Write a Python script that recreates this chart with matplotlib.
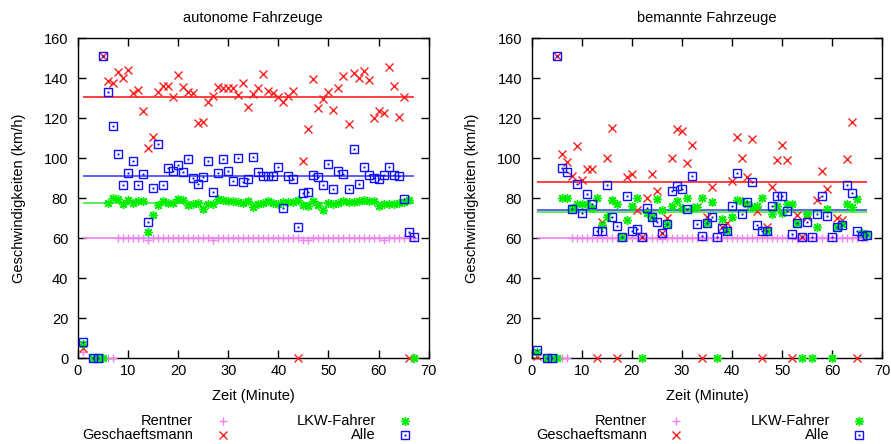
import matplotlib
matplotlib.use("Agg")
import matplotlib.pyplot as plt

plt.rcParams['font.family'] = ['Liberation Sans', 'DejaVu Sans']
plt.rcParams['font.size'] = 10.5

panel_titles = ["autonome Fahrzeuge", "bemannte Fahrzeuge"]
series_names = ["Rentner", "Geschaeftsmann", "LKW-Fahrer", "Alle"]

# ---- autonome Fahrzeuge ----
auto_rentner_x = [1, 6, 7] + list(range(8, 68))
auto_rentner_y = [3, 0, 0,
                  60, 60, 60, 60, 60, 60, 59.3, 60, 60, 60,
                  60, 60, 60, 60, 60, 60, 60, 60, 60, 59.4,
                  60, 60, 60, 60, 60, 60, 60, 60, 60, 60,
                  60, 60, 60, 60, 60, 60, 60, 59.3, 59.4, 60,
                  60, 60, 60, 60, 60, 60, 60, 60, 60, 60,
                  60, 60, 60, 59.3, 60, 60, 60, 60, 60, 60]

auto_gesch_x = [1, 3, 4] + list(range(5, 67))
auto_gesch_y = [5, 0, 0,
                151, 138.8, 137.5, 143, 140.3, 144, 132.5, 134.2, 123.7, 105.3,
                110.7, 133.3, 136.3, 136.3, 130.8, 141.7, 135.5, 133, 132.5, 117.8,
                118.3, 128.3, 131.2, 135.8, 135.3, 135, 135.3, 131.7, 137.5, 125.5,
                132, 135.3, 142, 133.7, 132.5, 130.5, 128, 131.2, 133.7, 0,
                98.7, 114.5, 139.7, 125.3, 129.7, 133.3, 124.2, 135, 141.3, 117.2,
                142.5, 140.3, 143.7, 139.2, 120.3, 123.7, 122.5, 145.5, 136.2, 120.8,
                130.8, 0]

auto_lkw_x = [1, 3, 4, 5] + list(range(6, 68))
auto_lkw_y = [7, 0, 0, 0,
              77.8, 80.3, 79.5, 77, 79.2, 77.5, 78.8, 78.7, 63.3, 71.5,
              76.7, 78.7, 77.5, 77.8, 79.5, 79.2, 76.7, 77.2, 77.5, 74.5,
              77.2, 77, 79.8, 79.2, 78.7, 78.8, 78, 77.5, 78.8, 75.8,
              77.2, 77.8, 78.8, 77.8, 77, 78.3, 78, 78.3, 79.2, 76.7,
              76.3, 78.8, 76.7, 74.2, 77.5, 77.2, 77.5, 78.5, 78, 78,
              78.5, 79.2, 78.8, 78.5, 76.3, 77, 77.2, 77.2, 77.5, 78,
              79.2, 0]

auto_alle_x = [1, 3, 4] + list(range(5, 68))
auto_alle_y = [8, 0, 0,
               151, 133.3, 116.3, 102, 86.7, 92.5, 98.8, 86.7, 92.2, 68.3,
               85.2, 107, 86.7, 95, 93.7, 96.5, 93.2, 99.5, 90.3, 87.3,
               90.8, 98.8, 83.2, 92.5, 99.7, 93.7, 88.7, 100.3, 88.3, 89.7,
               100.7, 93.3, 91.3, 91.3, 91, 95.7, 75.3, 91, 89.8, 65.8,
               82.5, 83, 91.8, 90.8, 86.7, 97, 84.7, 93.8, 92.2, 84.5,
               104.5, 87, 95.5, 91.8, 90.3, 89.8, 91.8, 95.7, 91.7, 91.2,
               79.7, 63.3, 60.5]

auto_means = [60, 130.5, 77.5, 91.3]

# ---- bemannte Fahrzeuge ----
man_rentner_x = [1, 6, 7] + list(range(8, 68))
man_rentner_y = [2, 0, 0,
                 60, 60, 60, 60, 60, 60, 60, 60, 60, 60,
                 60, 60, 60, 60, 60, 60, 60, 60, 59.6, 60,
                 60, 60, 60, 60, 60, 60, 60, 60, 60, 60,
                 60, 60, 60, 60, 60, 60, 60, 60, 60, 60,
                 60, 60, 60, 60, 60, 59.6, 60, 60, 60, 60,
                 60, 60, 60, 60, 60, 60, 60, 60, 60, 60]

man_gesch_x = [1, 3, 4, 5, 6, 7, 8, 9, 10, 11, 12, 13, 14, 15, 16, 17,
               19, 20, 21, 22, 23, 24, 25, 26, 27, 28, 29, 30, 31, 32, 33, 34,
               35, 36, 38, 39, 40, 41, 42, 43, 44, 45, 46, 47, 48, 49, 50,
               51, 52, 53, 54, 55, 57, 58, 59, 61, 62, 63, 64, 65]
man_gesch_y = [1, 0, 0, 151.3, 102, 98, 91.3, 106.3, 89.2, 94.7, 94.7, 0, 68.2, 100.2, 115.3, 0,
               90.8, 92, 74.2, 60.8, 80.3, 92, 83.7, 62.5, 70.3, 100.2, 114.8, 113.8, 97.8, 106.5, 75.8, 0,
               70.8, 85.8, 65.8, 67.5, 88.5, 110.8, 100.2, 90.5, 109.5, 73.5, 0, 65.8, 85.8, 99.2, 106.5,
               99.2, 0, 71.7, 60.8, 70.8, 79.3, 93.7, 84.8, 70, 69.2, 99.5, 118.3, 0]

man_lkw_x = [1, 3, 4, 5] + list(range(6, 58)) + list(range(59, 68))
man_lkw_y = [3, 0, 0, 0,
             80.3, 80.3, 75, 77, 77.2, 77, 75, 80.3, 66.7, 70.8,
             79.2, 77, 60.8, 69.2, 76.2, 80.3, 0, 72.5, 70.8, 79.8,
             74.2, 67, 76.3, 78.8, 75, 80, 75, 75.8, 80.3, 67.8,
             78, 0, 69.7, 63.8, 70.5, 79.2, 78.8, 77.2, 75.8, 76.3,
             80.3, 63.7, 72.2, 76.3, 72.8, 77, 77, 67.5, 0, 72.2,
             0, 65.8,
             74.5, 0, 65.8, 67, 77.2, 75.8, 79.5, 62.5, 62.2]

man_alle_x = [1, 3, 4] + list(range(5, 68))
man_alle_y = [4, 0, 0,
              151.3, 95, 93.3, 74.7, 87.2, 72.5, 82.2, 77, 63.8, 63.7,
              86.7, 70.5, 66.2, 60.8, 81.3, 63.8, 64.7, 60.8, 75.3, 70.8,
              68.3, 62.5, 67, 83.8, 86.3, 84.8, 74.5, 91.2, 67.2, 61.3,
              67.8, 70.8, 60.5, 65, 63.8, 76.2, 92.8, 72, 78.3, 88.3,
              66.7, 63.8, 63.7, 76.2, 81.3, 81.3, 73.8, 62.2, 67.5, 60.8,
              68, 60.5, 72.3, 81.3, 71.3, 60.5, 65.8, 66.7, 86.7, 82.5,
              63.8, 61.2, 61.7]

man_means = [60, 88, 73, 74.2]

avg_span = (1, 67)

x_ticks = [0, 10, 20, 30, 40, 50, 60, 70]
y_ticks = [0, 20, 40, 60, 80, 100, 120, 140, 160]

colors = ["#ee82ee", "#ff2020", "#00ee00", "#1010ff"]
line_colors = ["#ee82ee", "#ff2020", "#40ee40", "#6060ff"]
markers = ["+", "x", (8, 2, 0), "s"]
sizes = [6, 5.5, 6.5, 5.3]


def draw_points(ax, i, xs, ys, **kw):
    if i == 3:
        ax.plot(xs, ys, ls="none", marker="s", ms=sizes[i], mfc="none",
                mec=colors[i], mew=1.0, clip_on=False, zorder=3, **kw)
        ax.plot(xs, ys, ls="none", marker="s", ms=1.0, mfc=colors[i],
                mec=colors[i], mew=0.3, clip_on=False, zorder=3, **kw)
    else:
        ax.plot(xs, ys, ls="none", marker=markers[i], ms=sizes[i],
                color=colors[i], mew=1.0, clip_on=False, zorder=3, **kw)


def draw_panel(ax, title, data, means):
    for i, (xs, ys) in enumerate(data):
        draw_points(ax, i, xs, ys)
    for i, m in enumerate(means):
        ax.hlines(m, avg_span[0], avg_span[1], color=line_colors[i],
                  lw=1.4 if i == 3 else 1.2, zorder=2)

    ax.set_xlim(0, 70)
    ax.set_ylim(0, 160)
    ax.set_xticks(x_ticks)
    ax.set_yticks(y_ticks)
    ax.tick_params(direction="in", top=True, right=True, length=6,
                   width=1)
    ax.tick_params(axis="x", pad=4)
    ax.tick_params(axis="y", pad=7)
    for s in ax.spines.values():
        s.set_linewidth(1)
    ax.set_title(title, pad=12, fontsize=10.5)
    ax.set_xlabel("Zeit (Minute)", labelpad=8)
    ax.set_ylabel("Geschwindigkeiten (km/h)", labelpad=13)

    # gnuplot style key below the plot
    text_x = [0.328, 0.328, 0.85, 0.85]
    mark_x = [0.413, 0.413, 0.932, 0.932]
    row_y = [-0.197, -0.24, -0.197, -0.24]
    for i, name in enumerate(series_names):
        ax.text(text_x[i], row_y[i], name, transform=ax.transAxes,
                ha="right", va="center", fontsize=10.5)
        draw_points(ax, i, [mark_x[i]], [row_y[i]], transform=ax.transAxes)


fig = plt.figure(figsize=(8.91, 4.44), dpi=100)
ax1 = fig.add_axes([0.0875, 0.193, 0.3936, 0.7207])
ax2 = fig.add_axes([0.5967, 0.193, 0.3936, 0.7207])

draw_panel(ax1, panel_titles[0],
           [(auto_rentner_x, auto_rentner_y), (auto_gesch_x, auto_gesch_y),
            (auto_lkw_x, auto_lkw_y), (auto_alle_x, auto_alle_y)],
           auto_means)
draw_panel(ax2, panel_titles[1],
           [(man_rentner_x, man_rentner_y), (man_gesch_x, man_gesch_y),
            (man_lkw_x, man_lkw_y), (man_alle_x, man_alle_y)],
           man_means)

fig.savefig("out.png", dpi=100)
